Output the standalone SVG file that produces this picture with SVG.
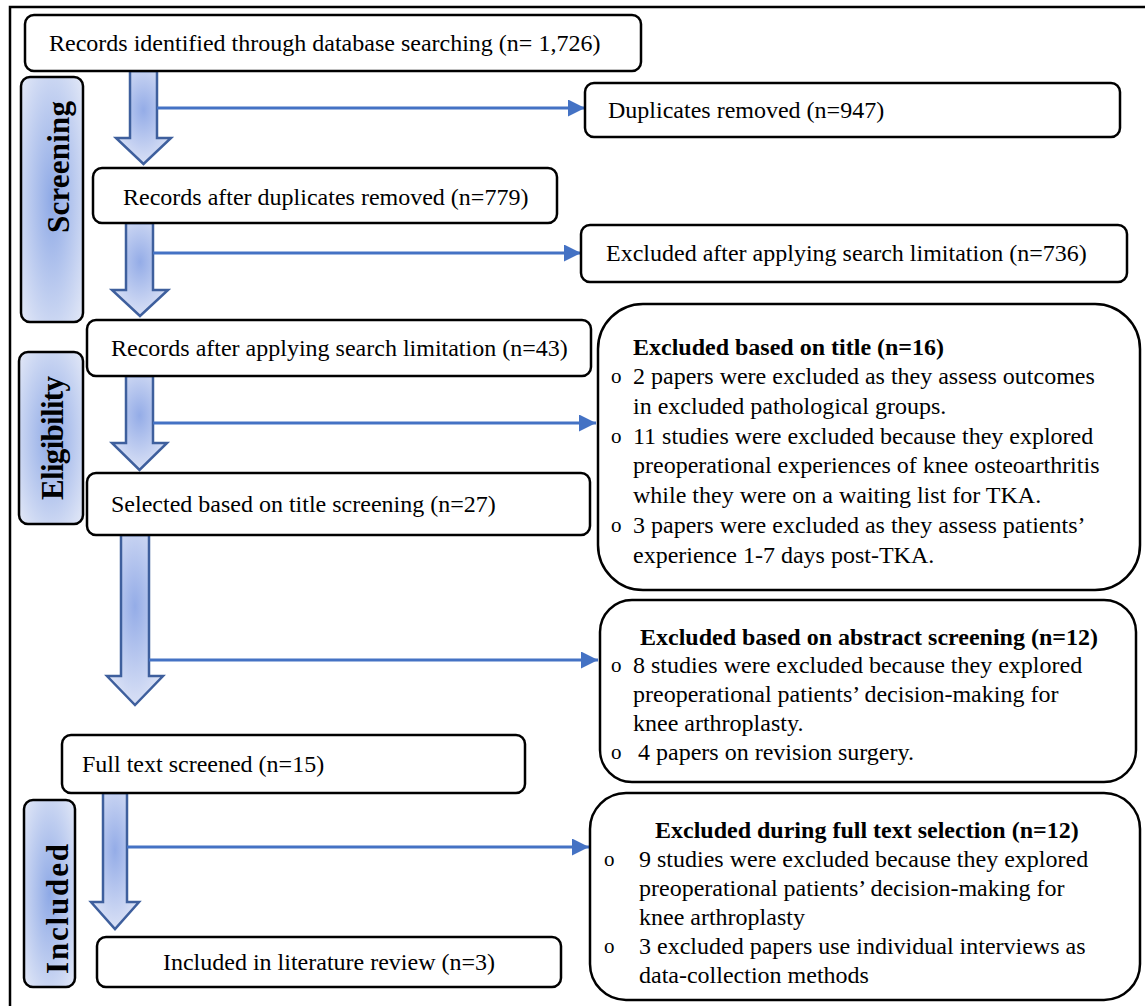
<svg xmlns="http://www.w3.org/2000/svg" width="1145" height="1006" viewBox="0 0 1145 1006">
<defs>
<style>
.box{fill:#fff;stroke:#000;stroke-width:2.5}
.tab{fill:url(#tabGrad);stroke:#000;stroke-width:2.5}
.blk{fill:url(#arrGrad);stroke:#3e5f9d;stroke-width:2.5;stroke-linejoin:miter}
.con{fill:none;stroke:#4472c4;stroke-width:3}
text{font-family:"Liberation Serif","Times New Roman",serif;fill:#000}
.t{font-size:24px}
.b{font-size:24px;font-weight:bold}
.lab{font-size:31px;font-weight:bold}
.bul{font-size:21px}
</style>
<radialGradient id="tabGrad" cx="0.5" cy="0.5" r="0.65">
<stop offset="0" stop-color="#8ea9e6"/>
<stop offset="1" stop-color="#dde4f6"/>
</radialGradient>
<radialGradient id="arrGrad" cx="0.5" cy="0.42" r="0.6">
<stop offset="0" stop-color="#94ace7"/>
<stop offset="1" stop-color="#dbe2f6"/>
</radialGradient>
<marker id="ah" markerUnits="userSpaceOnUse" markerWidth="18" markerHeight="17" refX="17" refY="8.5" orient="auto">
<path d="M0,0 L17,8.5 L0,17 Z" fill="#4472c4"/>
</marker>
</defs>
<rect x="10" y="7" width="1150" height="1010" fill="none" stroke="#000" stroke-width="2.5"/>

<g id="tab-screening"><rect class="tab" x="21" y="77" width="62" height="245" rx="9"/><text class="lab" transform="translate(69,167) rotate(-90)" text-anchor="middle" textLength="132">Screening</text></g>
<g id="tab-eligibility"><rect class="tab" x="19" y="352" width="64" height="172" rx="9"/><text class="lab" transform="translate(63,438) rotate(-90)" text-anchor="middle" textLength="124">Eligibility</text></g>
<g id="tab-included"><rect class="tab" x="24" y="800" width="51" height="187" rx="9"/><text class="lab" transform="translate(68,909) rotate(-90)" text-anchor="middle" textLength="130">Included</text></g>

<g id="flow-arrows">
<polygon class="blk" points="130,71 157,71 157,138 171,138 143.5,164 116,138 130,138"/>
<polygon class="blk" points="126,223 153,223 153,290 168,290 140,316 112,290 126,290"/>
<polygon class="blk" points="126,376 153,376 153,443 167,443 139.5,470 112,443 126,443"/>
<polygon class="blk" points="121,535 149,535 149,676 163,676 135,705 107,676 121,676"/>
<polygon class="blk" points="103,793 127,793 127,902 139,902 115,929 91,902 103,902"/>
</g>

<g id="connectors">
<line class="con" x1="157" y1="108" x2="585" y2="108" marker-end="url(#ah)"/>
<line class="con" x1="153" y1="253" x2="581" y2="253" marker-end="url(#ah)"/>
<line class="con" x1="153" y1="423" x2="596" y2="423" marker-end="url(#ah)"/>
<line class="con" x1="149" y1="660" x2="598" y2="660" marker-end="url(#ah)"/>
<line class="con" x1="127" y1="847" x2="589" y2="847" marker-end="url(#ah)"/>
</g>

<g id="n-identified"><rect class="box" x="25" y="15" width="616" height="56" rx="9"/><text class="t" x="49" y="51">Records identified through database searching (n= 1,726)</text></g>
<g id="n-duplicates"><rect class="box" x="585" y="83" width="535" height="54" rx="9"/><text class="t" x="608" y="118">Duplicates removed (n=947)</text></g>
<g id="n-after-dup"><rect class="box" x="93" y="168" width="464" height="55" rx="9"/><text class="t" x="123" y="205">Records after duplicates removed (n=779)</text></g>
<g id="n-excl-limit"><rect class="box" x="581" y="225" width="546" height="57" rx="9"/><text class="t" x="606" y="261">Excluded after applying search limitation (n=736)</text></g>
<g id="n-after-limit"><rect class="box" x="87" y="320" width="504" height="56" rx="9"/><text class="t" x="111" y="356">Records after applying search limitation (n=43)</text></g>
<g id="n-title"><rect class="box" x="87" y="473" width="503" height="62" rx="9"/><text class="t" x="111" y="512">Selected based on title screening (n=27)</text></g>
<g id="n-fulltext"><rect class="box" x="62" y="735" width="463" height="58" rx="9"/><text class="t" x="82" y="772">Full text screened (n=15)</text></g>
<g id="n-included"><rect class="box" x="97" y="937" width="464" height="50" rx="9"/><text class="t" x="329" y="970" text-anchor="middle">Included in literature review (n=3)</text></g>

<g id="n-excl-title"><rect class="box" x="598" y="304" width="542" height="286" rx="45"/>
<text class="b" x="633" y="355">Excluded based on title (n=16)</text>
<text class="bul" x="611" y="383">o</text><text class="t" x="633" y="384">2 papers were excluded as they assess outcomes</text>
<text class="t" x="633" y="414">in excluded pathological groups.</text>
<text class="bul" x="611" y="443">o</text><text class="t" x="633" y="444">11 studies were excluded because they explored</text>
<text class="t" x="633" y="473">preoperational experiences of knee osteoarthritis</text>
<text class="t" x="633" y="503">while they were on a waiting list for TKA.</text>
<text class="bul" x="611" y="532">o</text><text class="t" x="633" y="533">3 papers were excluded as they assess patients’</text>
<text class="t" x="633" y="563">experience 1-7 days post-TKA.</text>
</g>

<g id="n-excl-abstract"><rect class="box" x="600" y="600" width="536" height="182" rx="32"/>
<text class="b" x="640" y="645">Excluded based on abstract screening (n=12)</text>
<text class="bul" x="611" y="672">o</text><text class="t" x="633" y="673">8 studies were excluded because they explored</text>
<text class="t" x="633" y="702">preoperational patients’ decision-making for</text>
<text class="t" x="633" y="731">knee arthroplasty.</text>
<text class="bul" x="611" y="759">o</text><text class="t" x="638" y="760">4 papers on revision surgery.</text>
</g>

<g id="n-excl-fulltext"><rect class="box" x="590" y="793" width="550" height="207" rx="36"/>
<text class="b" x="655" y="838">Excluded during full text selection (n=12)</text>
<text class="bul" x="604" y="866">o</text><text class="t" x="639" y="867">9 studies were excluded because they explored</text>
<text class="t" x="639" y="896">preoperational patients’ decision-making for</text>
<text class="t" x="639" y="925">knee arthroplasty</text>
<text class="bul" x="604" y="953">o</text><text class="t" x="639" y="954">3 excluded papers use individual interviews as</text>
<text class="t" x="639" y="983">data-collection methods</text>
</g>
</svg>
